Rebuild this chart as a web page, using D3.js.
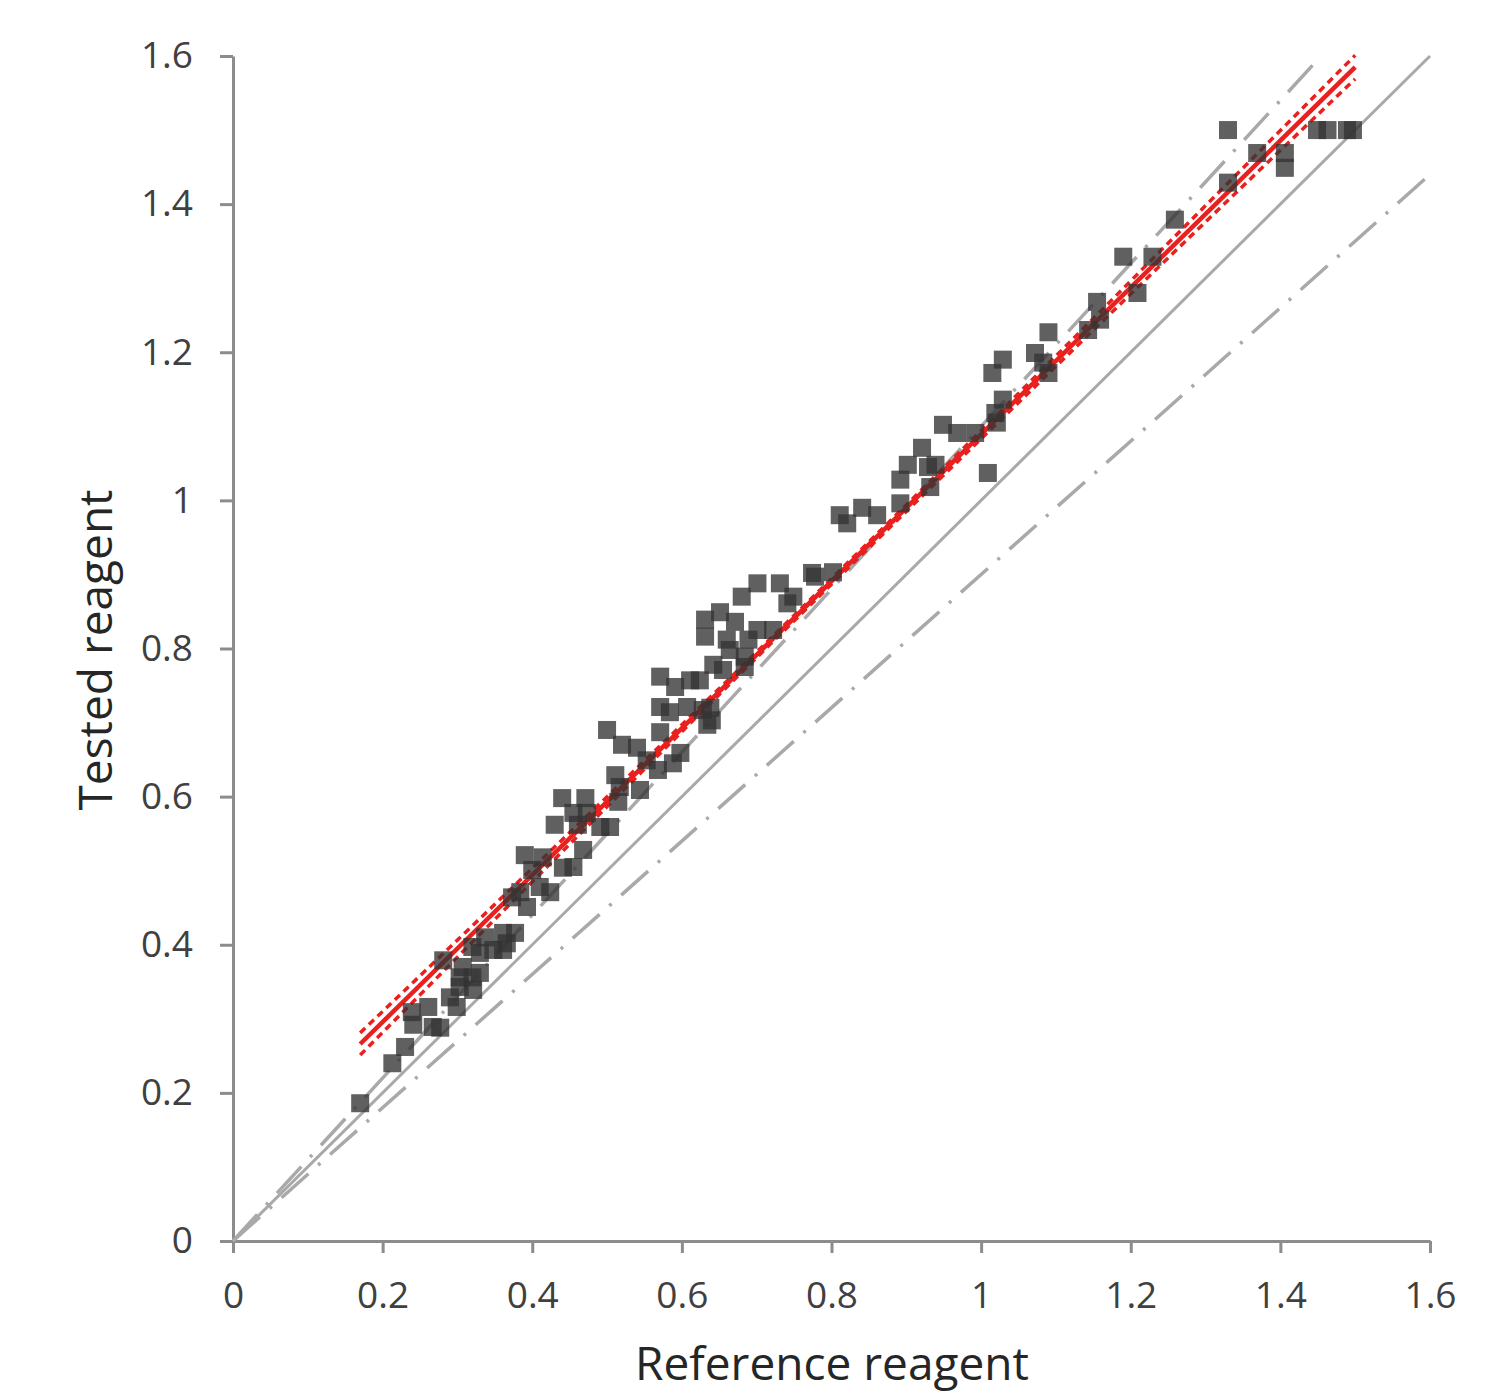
<!DOCTYPE html>
<html>
<head>
<meta charset="utf-8">
<script src="https://cdn.jsdelivr.net/npm/d3@7"></script>
<style>
body{margin:0;background:#fff}
.tick text{font-family:"Open Sans",sans-serif;fill:#404040}
</style>
</head>
<body>
<div id="chart"></div>
<script>
// ticks
var xTicks = [0,0.2,0.4,0.6,0.8,1,1.2,1.4,1.6]
var yTicks = [0,0.2,0.4,0.6,0.8,1,1.2,1.4,1.6]

// measured pairs: reference reagent / tested reagent
var refVals = [0.170,0.213,0.230,0.239,0.241,0.261,0.267,0.277,0.281,0.290,0.299,0.303,0.303,0.307,0.320,0.321,0.320,0.330,0.330,0.337,
	0.348,0.361,0.361,0.366,0.377,0.373,0.384,0.393,0.390,0.410,0.414,0.400,0.424,0.430,0.455,0.468,0.461,0.504,0.440,0.471,
	0.455,0.473,0.491,0.441,0.500,0.520,0.540,0.553,0.568,0.511,0.517,0.544,0.515,0.571,0.607,0.628,0.571,0.634,0.588,0.598,
	0.701,0.731,0.680,0.749,0.774,0.741,0.651,0.631,0.671,0.701,0.722,0.631,0.660,0.689,0.664,0.684,0.642,0.655,0.684,0.571,
	0.591,0.611,0.624,0.584,0.638,0.640,0.778,0.802,0.811,0.821,0.841,0.861,0.892,0.892,0.902,0.921,0.929,0.939,0.932,0.949,
	0.968,0.992,1.009,1.021,1.190,1.229,1.209,1.155,1.159,1.143,1.090,1.072,1.029,1.015,1.083,1.090,1.029,1.019,1.330,1.369,
	1.330,1.259,1.406,1.406,1.449,1.463,1.489,1.497]
var testVals = [0.186,0.240,0.262,0.309,0.292,0.316,0.289,0.288,0.379,0.329,0.316,0.356,0.343,0.370,0.356,0.339,0.397,0.389,0.362,0.410,
	0.393,0.393,0.416,0.402,0.416,0.464,0.471,0.451,0.521,0.478,0.518,0.501,0.471,0.562,0.505,0.528,0.562,0.559,0.598,0.598,
	0.578,0.578,0.559,0.504,0.690,0.670,0.666,0.649,0.636,0.629,0.613,0.609,0.593,0.721,0.721,0.717,0.687,0.697,0.645,0.659,
	0.888,0.888,0.870,0.870,0.902,0.861,0.849,0.839,0.836,0.825,0.825,0.816,0.812,0.812,0.798,0.789,0.778,0.771,0.775,0.762,
	0.748,0.757,0.757,0.714,0.720,0.703,0.897,0.903,0.980,0.969,0.990,0.980,1.028,0.996,1.048,1.071,1.045,1.048,1.018,1.102,
	1.091,1.091,1.037,1.105,1.329,1.329,1.280,1.268,1.244,1.230,1.227,1.199,1.190,1.172,1.186,1.172,1.136,1.118,1.500,1.469,
	1.429,1.379,1.469,1.449,1.500,1.500,1.500,1.500]

// reference lines
var identityLine = [[0,0],[1.6,1.6]]
var upperLimit = [[0,0],[1.4545,1.6]]
var lowerLimit = [[0,0],[1.6,1.44]]

// regression + confidence band
var regLine = [[0.17,0.266],[1.5,1.585]]
var ciX = [0.17,0.4,0.65,0.85,1.1,1.3,1.5]
var ciUpper = [0.281,0.503,0.746,0.944,1.195,1.398,1.601]
var ciLower = [0.251,0.485,0.738,0.936,1.181,1.376,1.569]

var W = 1497, H = 1397
var svg = d3.select("#chart").append("svg").attr("width",W).attr("height",H)

var x = d3.scaleLinear().domain([0,1.6]).range([233,1430])
var y = d3.scaleLinear().domain([0,1.6]).range([1241,56])
var line = d3.line().x(function(d){return x(d[0])}).y(function(d){return y(d[1])})

var fmt = d3.format("~g")

// axes
var gx = svg.append("g").attr("transform","translate(0,"+y(0)+")")
	.call(d3.axisBottom(x).tickValues(xTicks).tickFormat(fmt).tickSize(12).tickPadding(20).tickSizeOuter(0))
var gy = svg.append("g").attr("transform","translate("+x(0)+",0)")
	.call(d3.axisLeft(y).tickValues(yTicks).tickFormat(fmt).tickSize(13).tickPadding(27).tickSizeOuter(0))
svg.selectAll(".domain, .tick line").attr("stroke","#8c8c8c").attr("stroke-width",3)
svg.selectAll(".tick text").style("font-size","37px")
gx.selectAll(".tick text").attr("dy","0.95em")

// grey reference lines
svg.append("path").datum(identityLine).attr("d",line)
	.attr("fill","none").attr("stroke","#a9a9a9").attr("stroke-width",3)
svg.selectAll(".limit").data([upperLimit,lowerLimit]).enter().append("path")
	.attr("class","limit").attr("d",line)
	.attr("fill","none").attr("stroke","#a9a9a9").attr("stroke-width",3.5)
	.attr("stroke-dasharray","36,13,3,13")

// regression
var band = d3.line().curve(d3.curveMonotoneX)
	.x(function(d){return x(d[0])}).y(function(d){return y(d[1])})
var bands = [ciX.map(function(v,i){return [v,ciUpper[i]]}), ciX.map(function(v,i){return [v,ciLower[i]]})]
svg.selectAll(".ci").data(bands).enter().append("path")
	.attr("class","ci").attr("d",band)
	.attr("fill","none").attr("stroke","#e8201e").attr("stroke-width",3.5)
	.attr("stroke-dasharray","7,5")
svg.append("path").datum(regLine).attr("d",line)
	.attr("fill","none").attr("stroke","#e8201e").attr("stroke-width",4.5)

// points
var pts = refVals.map(function(v,i){return {x:v,y:testVals[i]}})
var s = 18
svg.selectAll(".pt").data(pts).enter().append("rect")
	.attr("class","pt")
	.attr("x",function(d){return x(d.x)-s/2})
	.attr("y",function(d){return y(d.y)-s/2})
	.attr("width",s).attr("height",s)
	.attr("fill","#333333").attr("fill-opacity",0.78)

// titles
svg.append("text").text("Reference reagent")
	.attr("x",832).attr("y",1380)
	.attr("text-anchor","middle")
	.style("font-family","'Open Sans',sans-serif").style("font-size","46px").style("fill","#262626")
svg.append("text").text("Tested reagent")
	.attr("transform","translate(112,650) rotate(-90)")
	.attr("text-anchor","middle")
	.style("font-family","'Open Sans',sans-serif").style("font-size","46px").style("fill","#262626")
</script>
</body>
</html>
